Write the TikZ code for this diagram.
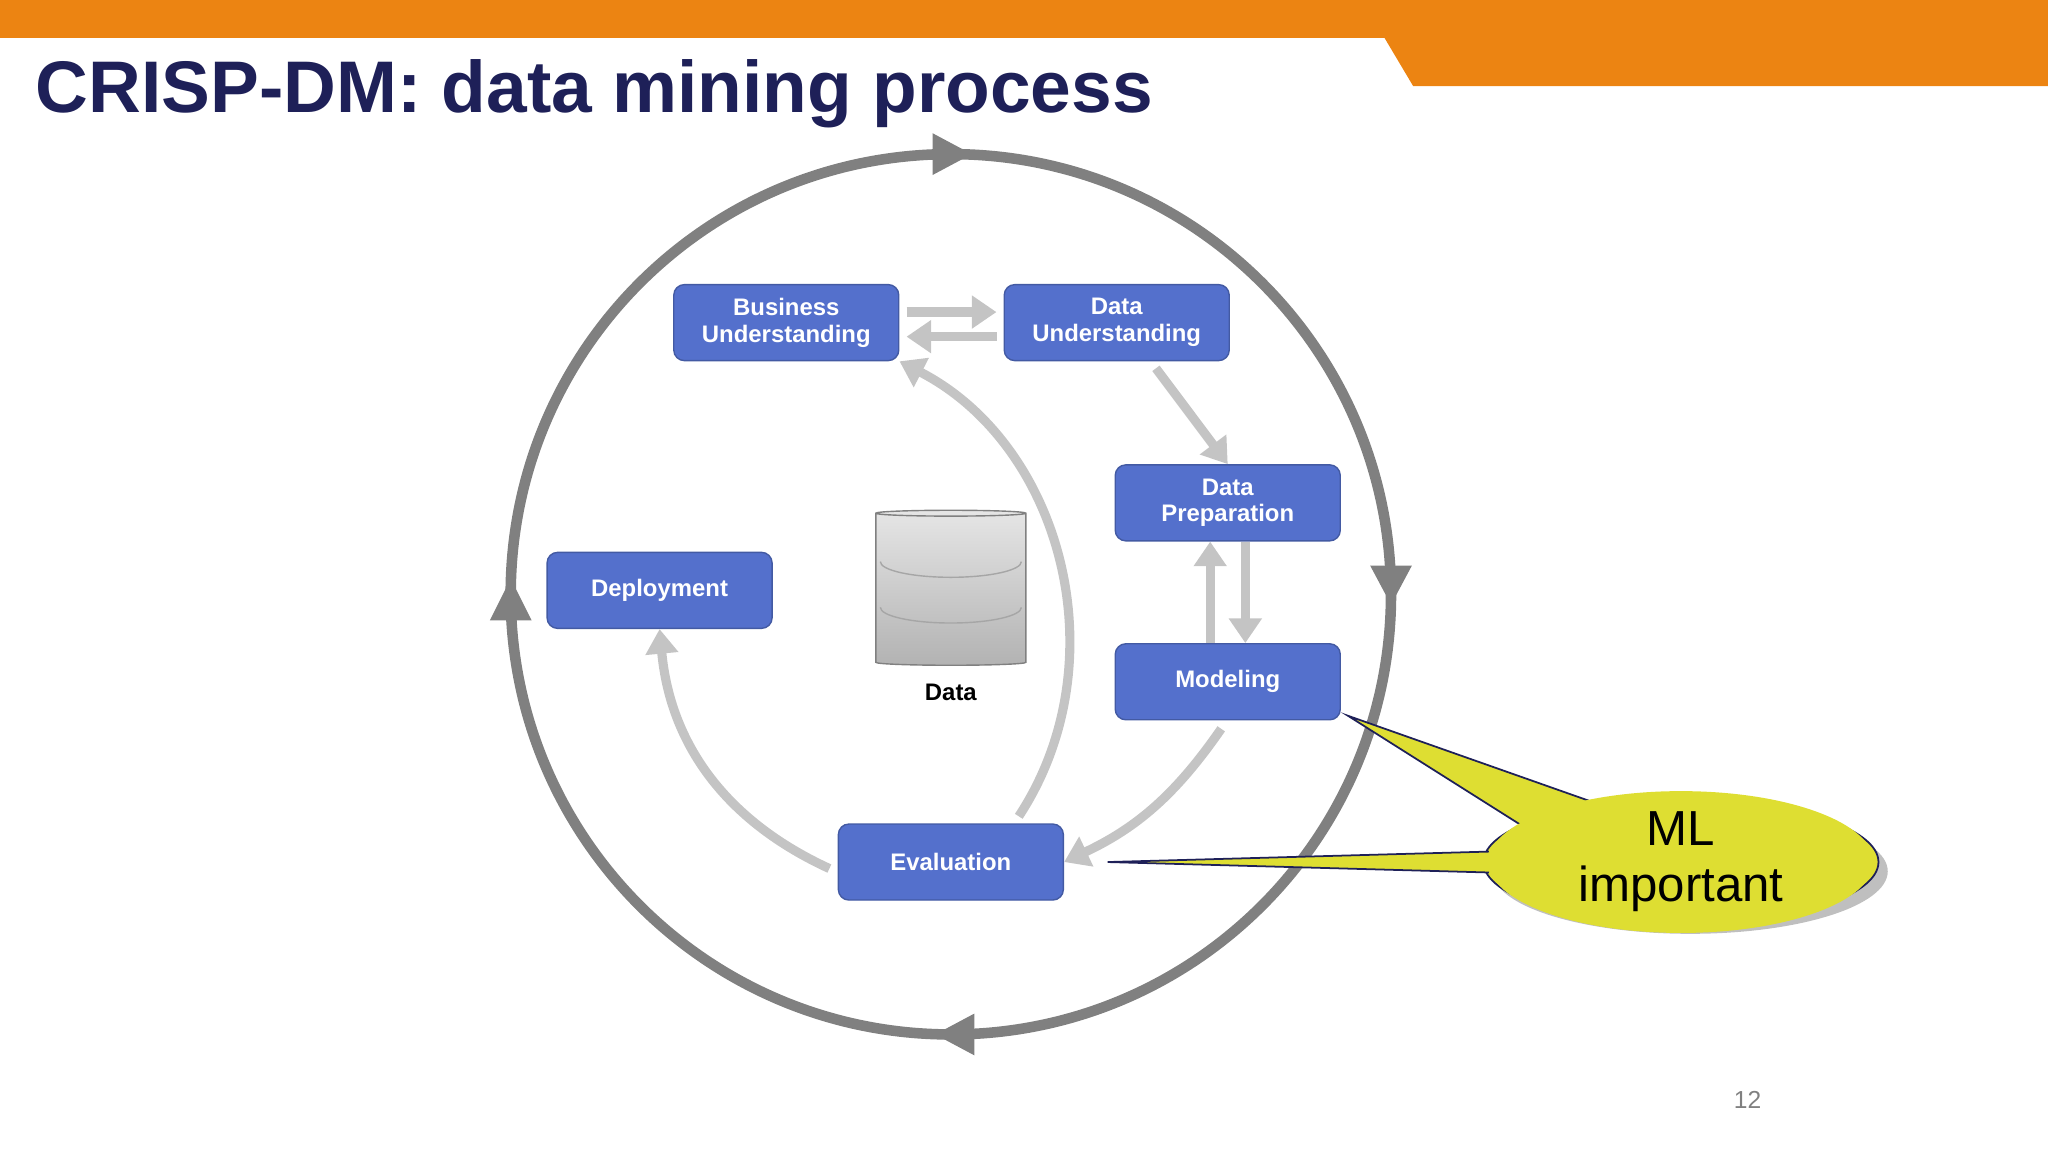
\documentclass[tikz,border=0pt]{standalone}
\usepackage{fontspec}
\setmainfont{Liberation Sans}
\usetikzlibrary{positioning, arrows.meta, shapes.geometric, shadows, calc}
\definecolor{crorange}{RGB}{236, 132, 18}
\definecolor{crnavy}{RGB}{30, 32, 88}
\definecolor{crblue}{RGB}{84, 112, 204}
\definecolor{crgray}{RGB}{128, 128, 128}
\definecolor{crlight}{RGB}{196, 196, 196}
\definecolor{cryellow}{RGB}{222, 222, 50}
\tikzset{
    phase/.style={rectangle, rounded corners=3pt, fill=crblue, draw=crblue!80!black, line width=0.4pt,
        minimum width=2.25cm, minimum height=0.76cm, text=white, font=\fontsize{6.8}{7.6}\selectfont\bfseries,
        align=center, inner sep=1pt},
    flow/.style={crlight, line width=2.6pt, -{Triangle[length=7pt, width=9pt]}},
    ring/.style={crgray, line width=3pt}
}
\begin{document}
\begin{tikzpicture}[x=0.01306cm, y=-0.01306cm]
    \useasboundingbox (0,0) rectangle (1568,882);
    % header band
    \fill[crorange] (0,0) -- (1568,0) -- (1568,66) -- (1082,66) -- (1060,29) -- (0,29) -- cycle;
    \node[anchor=base west, text=crnavy, font=\fontsize{20.8}{24}\selectfont\bfseries] (title) at (18,86) {CRISP-DM: data mining process};

    % outer cycle
    \draw[ring] (728,455) circle (337);
    \coordinate (ctop) at (728,118);
    \coordinate (cright) at (1065,455);
    \coordinate (cbot) at (728,792);
    \coordinate (cleft) at (391,455);
    \fill[crgray] ($(ctop)+(16,0)$) -- ($(ctop)+(-14,-16)$) -- ($(ctop)+(-14,16)$) -- cycle;
    \fill[crgray] ($(cright)+(0,8)$) -- ($(cright)+(-16,-22)$) -- ($(cright)+(16,-22)$) -- cycle;
    \fill[crgray] ($(cbot)+(-12,0)$) -- ($(cbot)+(18,-16)$) -- ($(cbot)+(18,16)$) -- cycle;
    \fill[crgray] ($(cleft)+(0,-12)$) -- ($(cleft)+(-16,20)$) -- ($(cleft)+(16,20)$) -- cycle;

    % phases
    \node[phase] (bu) at (602,247) {Business\\Understanding};
    \node[phase] (du) at (855,247) {Data\\Understanding};
    \node[phase] (dp) at (940,385) {Data\\Preparation};
    \node[phase] (dep) at (505,452) {Deployment};
    \node[phase] (mod) at (940,522) {Modeling};
    \node[phase] (ev) at (728,660) {Evaluation};

    % data store
    \node[cylinder, shape border rotate=90, aspect=0.25, draw=gray, top color=gray!20, bottom color=gray!60,
        minimum width=1.5cm, minimum height=1.55cm] (db) at (728,452) {};
    \draw[gray!70] (674,430) arc[start angle=180, end angle=0, x radius=54, y radius=12];
    \draw[gray!70] (674,465) arc[start angle=180, end angle=0, x radius=54, y radius=12];
    \node[font=\fontsize{6.8}{8}\selectfont\bfseries] (dblabel) at (728,530) {Data};

    % inner flows
    \draw[flow] ([xshift=2pt, yshift=3pt]bu.east) -- ([xshift=-2pt, yshift=3pt]du.west);
    \draw[flow] ([xshift=-2pt, yshift=-4pt]du.west) -- ([xshift=2pt, yshift=-4pt]bu.east);
    \draw[flow] (885,282) -- (dp.north);
    \draw[flow] ([xshift=-5pt]mod.north) -- ([xshift=-5pt]dp.south);
    \draw[flow] ([xshift=5pt]dp.south) -- ([xshift=5pt]mod.north);
    \draw[flow] (935,558) to[bend left=15] (ev.east);
    \draw[flow] (780,625) to[bend right=48] (bu.south east);
    \draw[flow] (635,665) to[bend left=30] (dep.south);

    % callout
    \node[ellipse, fill=cryellow, draw=crnavy, line width=0.5pt, minimum width=3.95cm, minimum height=1.25cm,
        drop shadow, inner sep=0pt] (ml) at (1287,660) {};
    \coordinate (tipmod) at (1032,548);
    \coordinate (tipev) at (848,660);
    \fill[cryellow] (tipmod) -- (1165,632) -- (1222,615) -- cycle;
    \draw[crnavy, line width=0.5pt] (1165,632) -- (tipmod) -- (1222,615);
    \fill[cryellow] (tipev) -- (1140,652) -- (1140,668) -- cycle;
    \draw[crnavy, line width=0.5pt] (1140,652) -- (tipev) -- (1140,668);
    \node[ellipse, fill=cryellow, minimum width=3.85cm, minimum height=1.17cm, font=\fontsize{14}{16}\selectfont,
        align=center, inner sep=0pt] (mltext) at (1287,660) {ML\\important};

    \node[text=gray, font=\fontsize{7}{8}\selectfont] (page) at (1338,842) {12};
\end{tikzpicture}
\end{document}
